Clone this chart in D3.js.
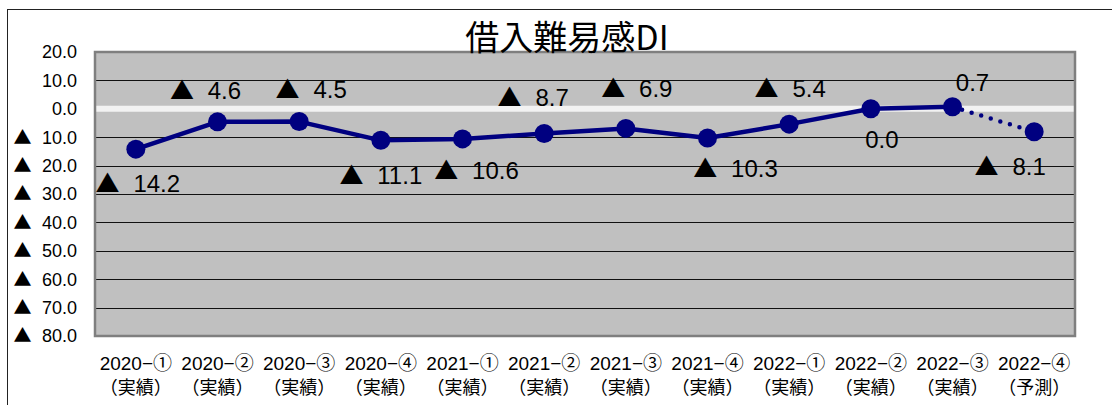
<!DOCTYPE html>
<html>
<head>
<meta charset="utf-8">
<script src="https://cdn.jsdelivr.net/npm/d3@7"></script>
<style>
  body { margin: 0; background: #fff; }
  svg { display: block; font-family: "Liberation Sans", "Noto Sans CJK JP", sans-serif; text-spacing-trim: space-all; }
  .tri { font-family: "Noto Sans CJK JP", sans-serif; }
</style>
</head>
<body>
<svg width="1112" height="405"></svg>
<script>
const periods = ['2020−①', '2020−②', '2020−③', '2020−④', '2021−①', '2021−②',
  '2021−③', '2021−④', '2022−①', '2022−②', '2022−③', '2022−④']
const kinds = ['（実績）', '（実績）', '（実績）', '（実績）', '（実績）', '（実績）',
  '（実績）', '（実績）', '（実績）', '（実績）', '（実績）', '（予測）']
const values = [-14.2, -4.6, -4.5, -11.1, -10.6, -8.7, -6.9, -10.3, -5.4, 0.0, 0.7, -8.1]
const yTicks = [20, 10, 0, -10, -20, -30, -40, -50, -60, -70, -80]

// hand-placed data label offsets (like the moved labels in the original)
const labelDx = [2, -12, 12, 0, 14, -11, 11, 28, 1, 11, 20, -24]
const labelDy = [34, -32, -32, 35, 31, -36, -40, 30, -36, 31, -24, 35]

// negative numbers are written with a ▲ in front, japanese style
const addValue = (sel, v) => {
  if (v < 0) {
    sel.append('tspan').attr('class', 'tri').text('▲')
    sel.append('tspan').attr('dx', '0.3em').text(' ' + Math.abs(v).toFixed(1))
  } else {
    sel.append('tspan').text(v.toFixed(1))
  }
}

const svg = d3.select('svg')

const plot = { left: 95, right: 1075, top: 52, bottom: 336 }

const x = d3.scaleBand()
  .domain(periods)
  .range([plot.left, plot.right])

const y = d3.scaleLinear()
  .domain([-80, 20])
  .range([plot.bottom, plot.top])

// outer frame
svg.append('rect')
  .attr('x', 7.5).attr('y', 9.5)
  .attr('width', 1130).attr('height', 420)
  .attr('fill', 'none')
  .attr('stroke', '#222')

// plot background
svg.append('rect')
  .attr('x', plot.left).attr('y', plot.top)
  .attr('width', plot.right - plot.left)
  .attr('height', plot.bottom - plot.top)
  .attr('fill', '#c0c0c0')

// grid
svg.append('g')
  .selectAll('line')
  .data(yTicks.filter(d => d !== 0 && d !== 20 && d !== -80))
  .enter()
  .append('line')
  .attr('x1', plot.left).attr('x2', plot.right)
  .attr('y1', d => Math.round(y(d)) + 0.5)
  .attr('y2', d => Math.round(y(d)) + 0.5)
  .attr('stroke', '#111')
  .attr('stroke-width', 1)

// zero line
svg.append('line')
  .attr('x1', plot.left).attr('x2', plot.right)
  .attr('y1', y(0)).attr('y2', y(0))
  .attr('stroke', '#f2f2f2')
  .attr('stroke-width', 6)

// plot border
svg.append('rect')
  .attr('x', plot.left).attr('y', plot.top)
  .attr('width', plot.right - plot.left)
  .attr('height', plot.bottom - plot.top)
  .attr('fill', 'none')
  .attr('stroke', '#7f7f7f')
  .attr('stroke-width', 2.5)

// y tick labels
svg.append('g')
  .selectAll('text')
  .data(yTicks)
  .enter()
  .append('text')
  .attr('x', 77)
  .attr('y', d => y(d))
  .attr('dy', '0.35em')
  .attr('text-anchor', 'end')
  .attr('font-size', 18)
  .attr('fill', '#000')
  .each(function (d) { addValue(d3.select(this), d) })

// x labels
const xLabels = svg.append('g')
  .selectAll('g')
  .data(periods)
  .enter()
  .append('g')
  .attr('transform', d => `translate(${x(d) + x.bandwidth() / 2},0)`)

xLabels.append('text')
  .attr('y', 370)
  .attr('text-anchor', 'middle')
  .attr('font-size', 19)
  .text(d => d)

xLabels.append('text')
  .attr('y', 394)
  .attr('text-anchor', 'middle')
  .attr('font-size', 18)
  .attr('font-family', '"Noto Sans CJK JP", sans-serif')
  .text((d, i) => kinds[i])

// series
const pts = values.map((v, i) => [x(periods[i]) + x.bandwidth() / 2, y(v)])
const line = d3.line()

svg.append('path')
  .attr('d', line(pts.slice(0, 11)))
  .attr('fill', 'none')
  .attr('stroke', '#000080')
  .attr('stroke-width', 4.5)
  .attr('stroke-linejoin', 'round')

svg.append('path')
  .attr('d', line(pts.slice(10)))
  .attr('fill', 'none')
  .attr('stroke', '#000080')
  .attr('stroke-width', 4.5)
  .attr('stroke-linecap', 'round')
  .attr('stroke-dasharray', '0,10')

svg.append('g')
  .selectAll('circle')
  .data(pts)
  .enter()
  .append('circle')
  .attr('cx', d => d[0])
  .attr('cy', d => d[1])
  .attr('r', 9.5)
  .attr('fill', '#000080')

// data labels
svg.append('g')
  .selectAll('text')
  .data(values)
  .enter()
  .append('text')
  .attr('x', (d, i) => pts[i][0] + labelDx[i])
  .attr('y', (d, i) => pts[i][1] + labelDy[i])
  .attr('dy', '0.36em')
  .attr('text-anchor', 'middle')
  .attr('font-size', 24)
  .attr('fill', '#000')
  .each(function (d) { addValue(d3.select(this), d) })

// title
svg.append('text')
  .attr('x', 567)
  .attr('y', 50)
  .attr('text-anchor', 'middle')
  .attr('font-size', 34)
  .attr('font-family', '"Noto Sans CJK JP", sans-serif')
  .attr('fill', '#000')
  .text('借入難易感DI')
</script>
</body>
</html>
